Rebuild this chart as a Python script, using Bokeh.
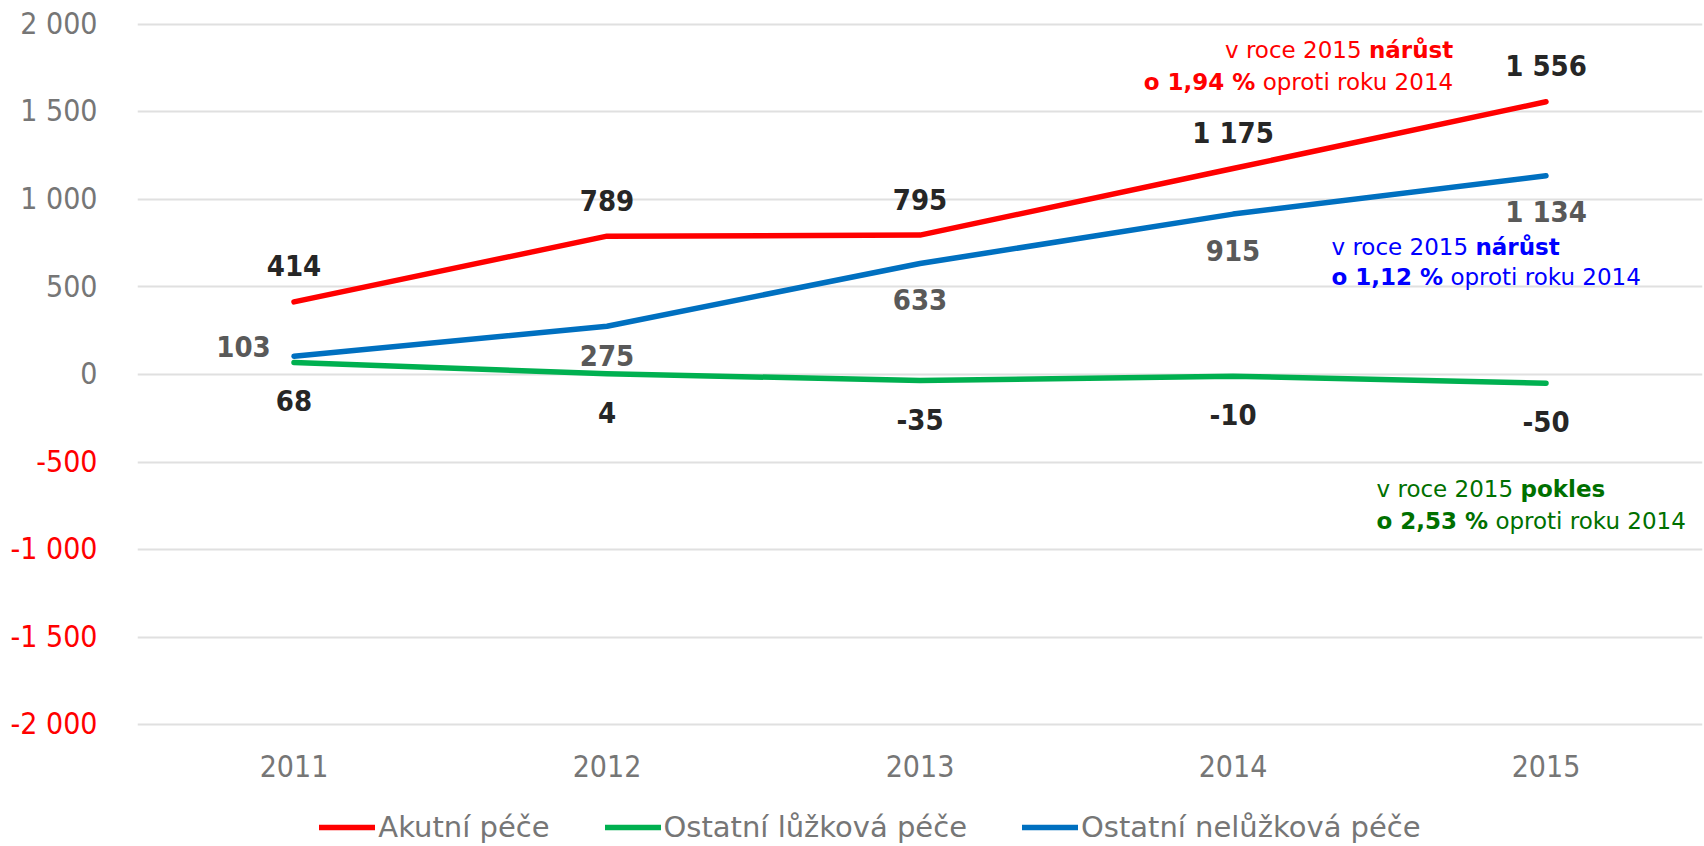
import glob
import subprocess

from bokeh.core.properties import value
from bokeh.embed import file_html
from bokeh.layouts import row
from bokeh.models import (ColumnDataSource, FactorRange, FixedTicker, Label,
                          Legend, LegendItem, Range1d)
from bokeh.plotting import figure
from bokeh.resources import INLINE

# ---------------- data ----------------
years = ["2011", "2012", "2013", "2014", "2015"]
akutni = [414, 789, 795, 1175, 1556]
ostatni_luzkova = [68, 4, -35, -10, -50]
ostatni_neluzkova = [103, 275, 633, 915, 1134]
series_names = ["Akutní péče", "Ostatní lůžková péče", "Ostatní nelůžková péče"]
y_ticks = [-2000, -1500, -1000, -500, 0, 500, 1000, 1500, 2000]

note_red = [[("v roce 2015", False), ("nárůst", True)],
            [("o 1,94 %", True), ("oproti roku 2014", False)]]
note_blue = [[("v roce 2015", False), ("nárůst", True)],
             [("o 1,12 %", True), ("oproti roku 2014", False)]]
note_green = [[("v roce 2015", False), ("pokles", True)],
              [("o 2,53 %", True), ("oproti roku 2014", False)]]

# ---------------- style / layout ----------------
RED, GREEN, BLUE = "#FF0000", "#00B050", "#0070C0"
GRAY = "#767676"
DARK = "#262626"
MID = "#595959"
NUM_FONT = "DejaVu Sans Condensed"
TXT_FONT = "DejaVu Sans"
ANNOT_SIZE = 23
LEG_SIZE = 29

W, H = 1704, 846
LEFT_W = 137                 # width of the tick-label strip
PX_PER_UNIT = 0.1752         # vertical scale (px per value unit)
ZERO_PX = 373.9              # pixel row of value 0
Y_TOP = ZERO_PX / PX_PER_UNIT
Y_BOT = -(H - ZERO_PX) / PX_PER_UNIT


def fmt(v):
    s = f"{abs(v):,}".replace(",", " ")
    return ("-" if v < 0 else "") + s


_font_cache = {}


def _font_file(family, bold):
    key = (family, bold)
    if key in _font_cache:
        return _font_cache[key]
    path = None
    try:
        out = subprocess.run(["fc-match", "-f", "%{file}", family + (":bold" if bold else "")],
                             capture_output=True, text=True, timeout=5).stdout.strip()
        if out:
            path = out
    except Exception:
        path = None
    if not path:
        name = "DejaVuSans-Bold.ttf" if bold else "DejaVuSans.ttf"
        hits = glob.glob("/usr/share/fonts/**/" + name, recursive=True)
        path = hits[0] if hits else None
    _font_cache[key] = path
    return path


def text_width(s, family, size, bold=False):
    try:
        from PIL import ImageFont
        path = _font_file(family, bold)
        if path:
            return ImageFont.truetype(path, size).getlength(s)
    except Exception:
        pass
    return len(s) * size * (0.66 if bold else 0.6)


y_range = Range1d(Y_BOT, Y_TOP)

# ---------------- left strip with y tick labels ----------------
left = figure(width=LEFT_W, height=H, x_range=Range1d(0, 1), y_range=y_range,
              output_backend="svg", toolbar_location=None,
              min_border_left=0, min_border_right=0, min_border_top=0, min_border_bottom=0)
left.xaxis.visible = False
left.yaxis.visible = False
left.xgrid.visible = False
left.ygrid.visible = False
left.outline_line_color = None
tick_src = ColumnDataSource(dict(y=y_ticks, text=[fmt(t) for t in y_ticks],
                                 color=[RED if t < 0 else GRAY for t in y_ticks]))
left.text(x=value(1), y="y", text="text", source=tick_src, x_offset=-40, y_offset=-1,
          text_align="right", text_baseline="middle", text_color="color",
          text_font=value(NUM_FONT), text_font_size="30px")

# ---------------- main chart ----------------
p = figure(width=W - LEFT_W, height=H, x_range=FactorRange(*years), y_range=y_range,
           output_backend="svg", toolbar_location=None,
           min_border_left=0, min_border_right=2, min_border_top=0, min_border_bottom=0)
p.outline_line_color = None
p.xaxis.visible = False
p.yaxis.visible = False
p.xgrid.visible = False
p.ygrid.ticker = FixedTicker(ticks=y_ticks)
p.ygrid.grid_line_color = "#e0e0e0"
p.ygrid.grid_line_width = 2

src = ColumnDataSource(dict(
    year=years, akutni=akutni, luz=ostatni_luzkova, neluz=ostatni_neluzkova,
    akutni_t=[fmt(v) for v in akutni],
    luz_t=[fmt(v) for v in ostatni_luzkova],
    neluz_t=[fmt(v) for v in ostatni_neluzkova],
))


def sub(idx):
    return ColumnDataSource(dict(year=[years[i] for i in idx],
                                 neluz=[ostatni_neluzkova[i] for i in idx],
                                 neluz_t=[fmt(ostatni_neluzkova[i]) for i in idx]))


src_left = sub([0])
src_near = sub([1])
src_below = sub([2, 3, 4])

# x category labels
p.text(x="year", y=value(min(y_ticks)), text="year", source=src, y_offset=41,
       text_align="center", text_baseline="middle", text_color=GRAY,
       text_font=value(NUM_FONT), text_font_size="30px")

r_red = p.line("year", "akutni", source=src, line_color=RED, line_width=5.5,
               line_cap="round", line_join="round")
r_green = p.line("year", "luz", source=src, line_color=GREEN, line_width=5.5,
                 line_cap="round", line_join="round")
r_blue = p.line("year", "neluz", source=src, line_color=BLUE, line_width=5.5,
                line_cap="round", line_join="round")

lbl = dict(text_align="center", text_baseline="middle", text_font=value(NUM_FONT),
           text_font_size="29px", text_font_style="bold")
p.text("year", "akutni", text="akutni_t", source=src, y_offset=-36, text_color=DARK, **lbl)
p.text("year", "luz", text="luz_t", source=src, y_offset=38.5, text_color=DARK, **lbl)
p.text("year", "neluz", text="neluz_t", source=src_below, y_offset=36.5, text_color=MID, **lbl)
p.text("year", "neluz", text="neluz_t", source=src_near, y_offset=29.5, text_color=MID, **lbl)
p.text("year", "neluz", text="neluz_t", source=src_left, x_offset=-50.5, y_offset=-10,
       text_color=MID, **lbl)


# annotations with mixed bold
def add_note(lines, x, ys, align, color):
    space = text_width(" ", TXT_FONT, ANNOT_SIZE)
    for segs, y in zip(lines, ys):
        widths = [text_width(t, TXT_FONT, ANNOT_SIZE, b) for t, b in segs]
        total = sum(widths) + space * (len(segs) - 1)
        off = -total if align == "right" else 0.0
        for (t, b), w in zip(segs, widths):
            p.add_layout(Label(x=x, y=y, x_offset=off, text=t, text_align="left",
                               text_baseline="middle", text_font=TXT_FONT,
                               text_font_size=f"{ANNOT_SIZE}px",
                               text_font_style="bold" if b else "normal", text_color=color))
            off += w + space


add_note(note_red, 4.2035, [1850, 1669], "right", "#FF0000")
add_note(note_blue, 3.8147, [726, 555], "left", "#0000FF")
add_note(note_green, 3.9585, [-654, -834], "left", "#007000")

# legend
GW, GS, SP = 56, 3, 55
leg_w = sum(GW + GS + text_width(n, TXT_FONT, LEG_SIZE) for n in series_names) + SP * 2
leg_h = LEG_SIZE * 1.164
lx = (870 - LEFT_W) - leg_w / 2
ly = H - (827.5 + leg_h / 2)
legend = Legend(items=[LegendItem(label=series_names[0], renderers=[r_red]),
                       LegendItem(label=series_names[1], renderers=[r_green]),
                       LegendItem(label=series_names[2], renderers=[r_blue])],
                orientation="horizontal", location=(lx, max(ly, 0)), glyph_width=GW,
                glyph_height=20, label_standoff=GS, spacing=SP, padding=0, margin=0,
                border_line_color=None, background_fill_alpha=0,
                label_text_font=TXT_FONT, label_text_font_size=f"{LEG_SIZE}px",
                label_text_color=GRAY)
p.add_layout(legend)

layout = row(left, p)
open("out.html", "w").write(file_html(layout, INLINE))
